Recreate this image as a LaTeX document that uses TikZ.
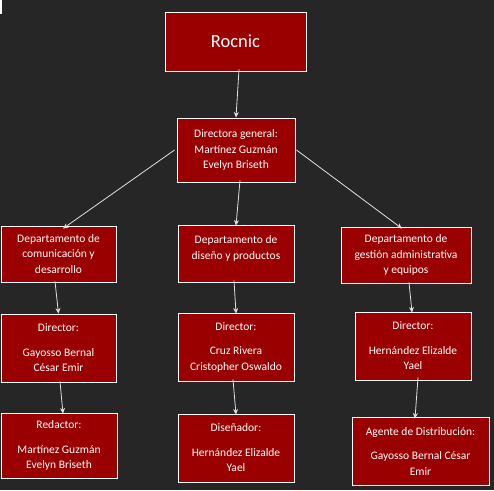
\documentclass[tikz,border=0pt]{standalone}
\usepackage{fontspec}
\setmainfont{Carlito}
\usetikzlibrary{arrows.meta}
\definecolor{bgdark}{RGB}{38,38,38}
\definecolor{boxred}{RGB}{155,0,0}
\definecolor{linegray}{RGB}{225,225,225}
\tikzset{
  box/.style={draw=white, line width=0.9pt, fill=boxred, text=white, align=center,
    inner sep=0pt, font=\fontsize{11.5}{15.5}\selectfont},
  conn/.style={draw=linegray, line width=0.8pt, -{Stealth[length=5.5pt,width=5pt]}},
}
\begin{document}
\begin{tikzpicture}[x=1pt,y=-1pt]
\fill[bgdark] (0,0) rectangle (494,490);
\useasboundingbox (0,0) rectangle (494,490);
\fill[white] (0,0) rectangle (1.5,14);

\node[box, minimum width=141pt, minimum height=59pt, font=\fontsize{18.5}{22}\selectfont] (roc) at (235.5,41.5) {Rocnic};
\node[box, minimum width=118pt, minimum height=64pt] (dg) at (236,150) {Directora general:\\Martínez Guzmán\\Evelyn Briseth};

\node[box, minimum width=115pt, minimum height=56pt] (d1) at (58.5,254) {Departamento de\\comunicación y\\desarrollo};
\node[box, minimum width=116pt, minimum height=57pt] (d2) at (236,253.5) {Departamento de\\diseño y productos\\[-3.5pt]};
\node[box, minimum width=130pt, minimum height=56pt] (d3) at (406,255) {Departamento de\\gestión administrativa\\y equipos};

\node[box, minimum width=115pt, minimum height=68pt] (r1) at (58.5,348) {Director:\\[9pt]Gayosso Bernal\\César Emir};
\node[box, minimum width=116pt, minimum height=68pt] (r2) at (236,347) {Director:\\[9pt]Cruz Rivera\\Cristopher Oswaldo};
\node[box, minimum width=116pt, minimum height=68pt] (r3) at (413,346) {Director:\\[9pt]Hernández Elizalde\\Yael};

\node[box, minimum width=116pt, minimum height=65pt] (s1) at (59,445.5) {Redactor:\\[9pt]Martínez Guzmán\\Evelyn Briseth};
\node[box, minimum width=116pt, minimum height=68pt] (s2) at (236,448) {Diseñador:\\[9pt]Hernández Elizalde\\Yael};
\node[box, minimum width=137pt, minimum height=68pt] (s3) at (420.5,451) {Agente de Distribución:\\[9pt]Gayosso Bernal César\\Emir};

\draw[conn] ([xshift=3.5pt,yshift=2pt]roc.south) -- (dg.north);
\draw[conn] ([xshift=-2pt]dg.west) -- ([xshift=4.5pt,yshift=-3pt]d1.north);
\draw[conn] ([xshift=4pt,yshift=2pt]dg.south) -- ([yshift=-1pt]d2.north);
\draw[conn] ([xshift=1pt]dg.east) -- ([xshift=-4pt,yshift=-2pt]d3.north);
\draw[conn] ([xshift=-3.5pt,yshift=1pt]d1.south) -- ([xshift=0pt]r1.north);
\draw[conn] ([xshift=-2pt,yshift=2pt]d2.south) -- ([yshift=-1pt]r2.north);
\draw[conn] ([xshift=3pt,yshift=1pt]d3.south) -- ([xshift=-1pt,yshift=-1pt]r3.north);
\draw[conn] ([xshift=1.5pt,yshift=1pt]r1.south) -- ([xshift=4pt,yshift=-1pt]s1.north);
\draw[conn] ([xshift=-3pt,yshift=2pt]r2.south) -- ([yshift=-1pt]s2.north);
\draw[conn] ([xshift=5pt,yshift=3pt]r3.south) -- ([xshift=-5.5pt,yshift=-2pt]s3.north);
\end{tikzpicture}
\end{document}
